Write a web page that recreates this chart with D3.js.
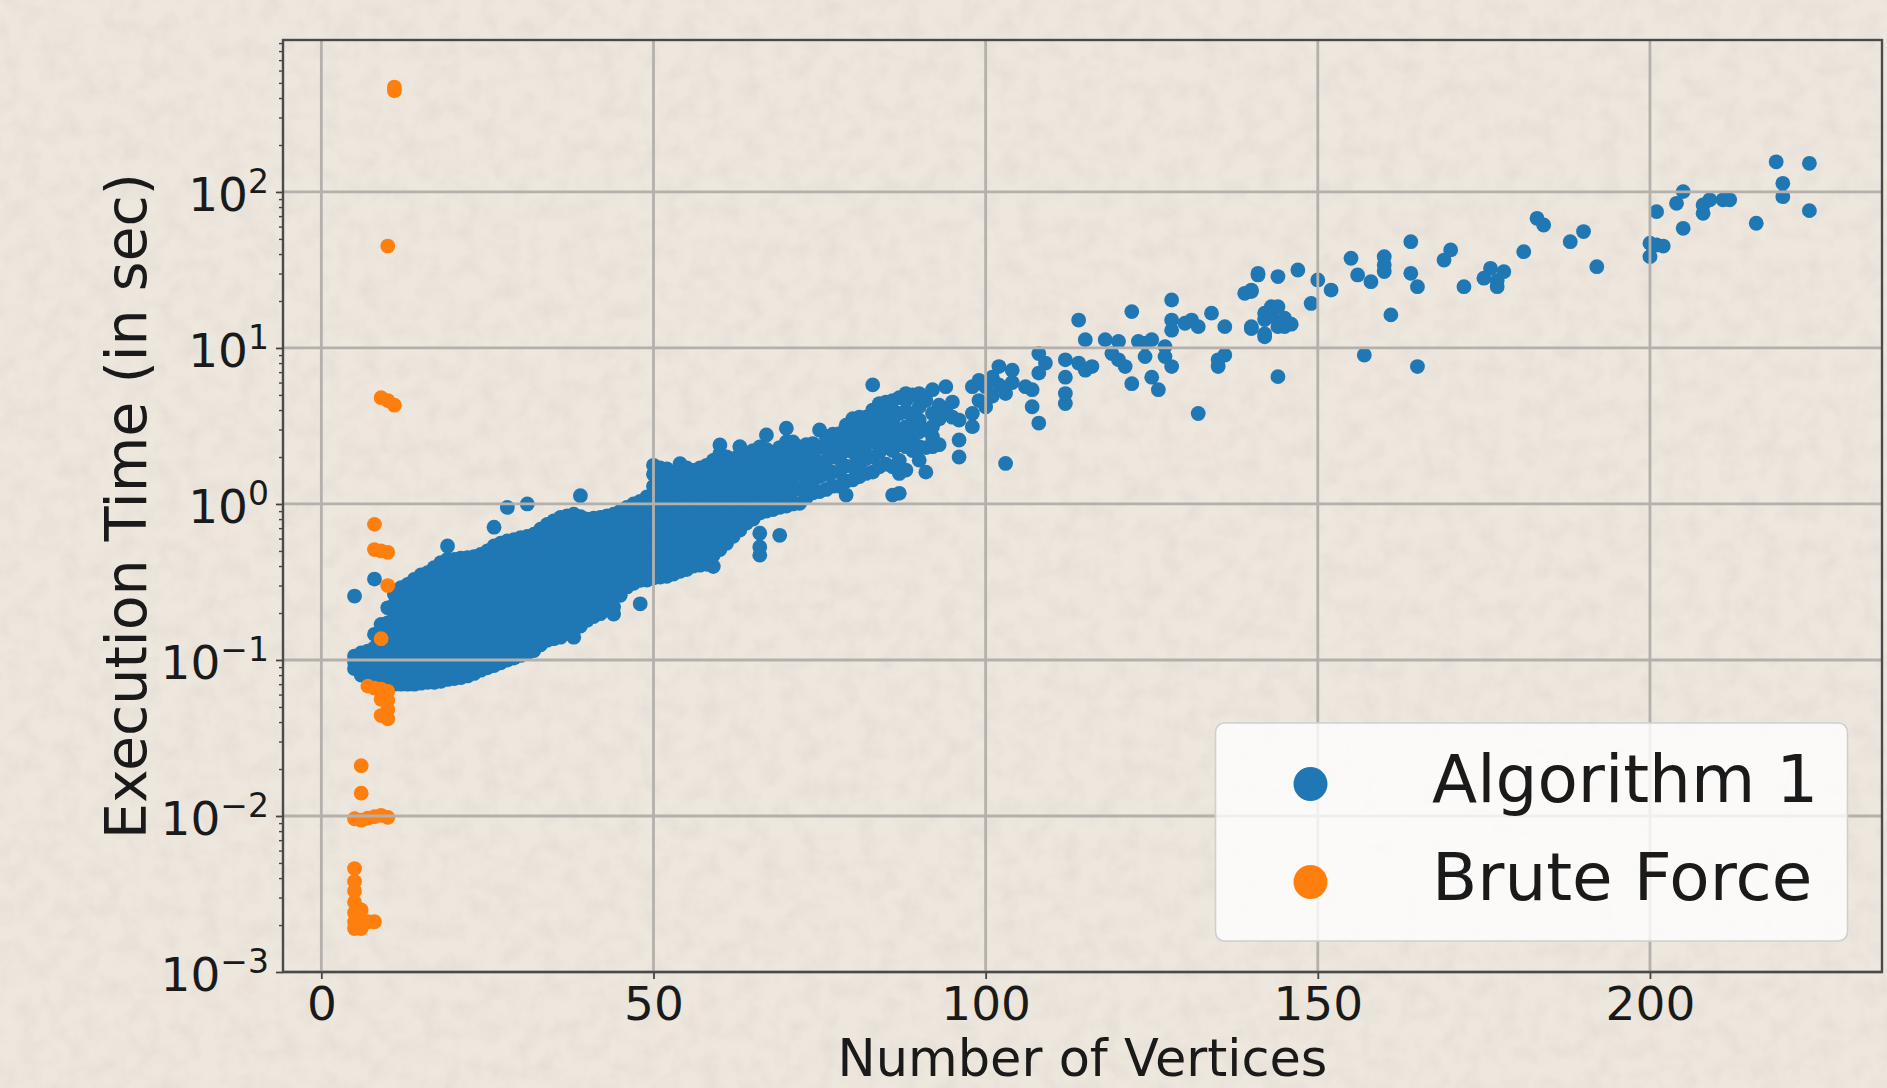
<!DOCTYPE html>
<html><head><meta charset="utf-8">
<script src="https://cdn.jsdelivr.net/npm/d3@7"></script>
<style>html,body{margin:0;padding:0;background:#ede7de;overflow:hidden}svg{display:block}</style>
</head><body><svg id="chart" width="1887" height="1088"></svg>
<script>
// ---------- data ----------
const xTicks = [0, 50, 100, 150, 200];
const yTickExponents = [-3, -2, -1, 0, 1, 2];
const seriesNames = ["Algorithm 1", "Brute Force"];
const seriesColors = ["#1f77b4", "#ff7f0e"];
const xLabel = "Number of Vertices";
const yLabel = "Execution Time (in sec)";

// Algorithm 1: [number of vertices, [execution times in sec]]
const algorithm1 = [
 [5,[0.088,0.097,0.106,0.257]],
 [6,[0.080,0.090,0.100,0.111]],
 [7,[0.078,0.092,0.103,0.114]],
 [8,[0.074,0.084,0.100,0.120,0.146,0.33]],
 [9,[0.072,0.082,0.092,0.110,0.132,0.150,0.169]],
 [10,[0.071,0.084,0.100,0.120,0.144,0.173,0.216]],
 [11,[0.070,0.077,0.092,0.110,0.132,0.158,0.190,0.228,0.264]],
 [12,[0.070,0.084,0.100,0.120,0.144,0.173,0.208,0.250,0.291]],
 [13,[0.070,0.077,0.092,0.110,0.132,0.158,0.190,0.228,0.274,0.305]],
 [14,[0.070,0.084,0.100,0.120,0.144,0.173,0.208,0.250,0.300,0.329]],
 [15,[0.071,0.077,0.092,0.110,0.132,0.158,0.190,0.228,0.274,0.330,0.351]],
 [16,[0.072,0.084,0.100,0.120,0.144,0.173,0.208,0.250,0.300,0.363]],
 [17,[0.072,0.080,0.092,0.110,0.132,0.158,0.190,0.228,0.274,0.330,0.391]],
 [18,[0.073,0.084,0.100,0.120,0.144,0.173,0.208,0.250,0.300,0.360,0.421]],
 [19,[0.075,0.092,0.110,0.132,0.158,0.190,0.228,0.274,0.330,0.390,0.442,0.538]],
 [20,[0.076,0.084,0.100,0.120,0.144,0.173,0.208,0.250,0.300,0.360,0.442]],
 [21,[0.077,0.092,0.110,0.132,0.158,0.190,0.228,0.274,0.330,0.390,0.450]],
 [22,[0.079,0.090,0.100,0.120,0.144,0.173,0.208,0.250,0.300,0.360,0.453]],
 [23,[0.082,0.092,0.110,0.132,0.158,0.190,0.228,0.274,0.330,0.390,0.460]],
 [24,[0.086,0.100,0.120,0.144,0.173,0.208,0.250,0.300,0.360,0.420,0.475]],
 [25,[0.089,0.100,0.110,0.132,0.158,0.190,0.228,0.274,0.330,0.390,0.450,0.500]],
 [26,[0.092,0.100,0.120,0.144,0.173,0.208,0.250,0.300,0.360,0.430,0.538,0.71]],
 [27,[0.096,0.110,0.132,0.158,0.190,0.228,0.274,0.330,0.390,0.470,0.560]],
 [28,[0.100,0.120,0.144,0.173,0.208,0.250,0.300,0.360,0.430,0.520,0.579,0.95]],
 [29,[0.103,0.115,0.132,0.158,0.190,0.228,0.274,0.330,0.390,0.470,0.590]],
 [30,[0.107,0.120,0.144,0.173,0.208,0.250,0.300,0.360,0.430,0.520,0.608]],
 [31,[0.111,0.132,0.158,0.190,0.228,0.274,0.330,0.390,0.470,0.570,0.620,1.0]],
 [32,[0.115,0.130,0.144,0.173,0.208,0.250,0.300,0.360,0.430,0.520,0.640]],
 [33,[0.125,0.140,0.158,0.190,0.228,0.274,0.330,0.390,0.470,0.570,0.690]],
 [34,[0.134,0.150,0.173,0.208,0.250,0.300,0.360,0.430,0.520,0.620,0.740]],
 [35,[0.137,0.158,0.190,0.228,0.274,0.330,0.390,0.470,0.570,0.680,0.780]],
 [36,[0.140,0.160,0.185,0.208,0.250,0.300,0.360,0.430,0.520,0.620,0.750,0.820]],
 [37,[0.148,0.170,0.190,0.228,0.274,0.330,0.390,0.470,0.570,0.680,0.840]],
 [38,[0.140,0.155,0.175,0.208,0.250,0.300,0.360,0.430,0.520,0.620,0.750,0.860]],
 [39,[0.165,0.190,0.228,0.274,0.330,0.390,0.470,0.570,0.680,0.830,1.13]],
 [40,[0.180,0.208,0.250,0.300,0.360,0.430,0.520,0.620,0.720,0.800]],
 [41,[0.190,0.228,0.274,0.330,0.390,0.470,0.570,0.680,0.810]],
 [42,[0.198,0.230,0.260,0.300,0.360,0.430,0.520,0.620,0.720,0.820]],
 [43,[0.210,0.245,0.290,0.330,0.390,0.470,0.570,0.680,0.840]],
 [44,[0.197,0.219,0.260,0.300,0.360,0.430,0.520,0.620,0.750,0.860]],
 [45,[0.260,0.300,0.350,0.410,0.470,0.570,0.680,0.820,0.900]],
 [46,[0.294,0.330,0.380,0.440,0.520,0.620,0.750,0.860,0.950]],
 [47,[0.310,0.350,0.400,0.470,0.570,0.680,0.820,1.00]],
 [48,[0.229,0.324,0.370,0.430,0.520,0.620,0.750,0.900,1.04]],
 [49,[0.325,0.360,0.410,0.470,0.570,0.680,0.820,0.980,1.11]],
 [50,[0.336,0.380,0.430,0.520,0.620,0.750,0.900,1.08,1.30,1.55,1.77]],
 [51,[0.340,0.390,0.470,0.570,0.680,0.820,0.980,1.18,1.42,1.70]],
 [52,[0.344,0.400,0.460,0.520,0.620,0.750,0.900,1.08,1.30,1.50,1.68]],
 [53,[0.355,0.410,0.470,0.570,0.680,0.820,0.980,1.18,1.42,1.60]],
 [54,[0.370,0.430,0.520,0.620,0.750,0.900,1.08,1.30,1.55,1.81]],
 [55,[0.380,0.450,0.570,0.680,0.820,0.980,1.18,1.42,1.70]],
 [56,[0.400,0.460,0.520,0.620,0.750,0.900,1.08,1.30,1.64]],
 [57,[0.405,0.470,0.570,0.680,0.820,0.980,1.18,1.42,1.70]],
 [58,[0.410,0.480,0.550,0.620,0.750,0.900,1.08,1.30,1.55,1.77]],
 [59,[0.397,0.470,0.570,0.680,0.820,0.980,1.18,1.42,1.70,1.90]],
 [60,[0.510,0.600,0.700,0.820,0.950,1.10,1.30,1.55,1.87,2.10,2.39]],
 [61,[0.560,0.650,0.770,0.900,1.05,1.24,1.45,1.70,2.00]],
 [62,[0.620,0.720,0.840,0.980,1.15,1.35,1.60,1.95]],
 [63,[0.680,0.790,0.920,1.08,1.26,1.50,1.80,2.05,2.33]],
 [64,[0.755,0.880,1.02,1.20,1.42,1.70,2.00]],
 [65,[0.800,0.950,1.12,1.33,1.60,1.90,2.20]],
 [66,[0.470,0.530,0.650,0.875,1.02,1.20,1.42,1.70,2.00,2.32]],
 [67,[0.900,1.08,1.30,1.55,1.87,2.24,2.77]],
 [68,[0.920,1.10,1.33,1.60,1.90,2.15]],
 [69,[0.630,0.950,1.15,1.40,1.70,2.00,2.30]],
 [70,[0.970,1.18,1.42,1.72,2.10,2.50,3.06]],
 [71,[1.00,1.22,1.50,1.80,2.15,2.50]],
 [72,[1.01,1.25,1.55,1.90,2.32]],
 [73,[1.10,1.35,1.65,2.00,2.40]],
 [74,[1.18,1.42,1.75,2.10,2.44]],
 [75,[1.20,1.50,1.85,2.30,2.98]],
 [76,[1.24,1.55,1.90,2.30,2.70]],
 [77,[1.30,1.60,2.00,2.40,2.80]],
 [78,[1.30,1.60,1.95,2.35,2.82]],
 [79,[1.14,1.40,1.75,2.20,2.70,3.20]],
 [80,[1.43,1.75,2.15,2.60,3.10,3.52]],
 [81,[1.50,1.85,2.30,2.80,3.30,3.60]],
 [82,[1.57,1.95,2.40,2.90,3.60]],
 [83,[1.60,2.00,2.50,3.10,3.60,4.00,5.80]],
 [84,[1.73,2.15,2.65,3.30,3.90,4.40]],
 [85,[1.80,2.30,2.90,3.60,4.50]],
 [86,[1.14,1.73,2.20,2.70,3.40,4.00,4.60]],
 [87,[1.17,1.57,1.90,2.40,3.00,3.80,4.80]],
 [88,[1.65,2.33,2.57,3.13,3.90,4.60,5.10]],
 [89,[2.20,2.70,3.30,3.80,5.00]],
 [90,[1.91,2.33,2.90,3.45,4.20,5.10]],
 [91,[1.60,2.30,3.00,4.60]],
 [92,[2.33,2.70,3.13,3.80,5.40]],
 [93,[2.40,3.50,4.30]],
 [94,[4.00,5.65]],
 [95,[3.60,4.50]],
 [96,[2.00,2.57,3.45]],
 [98,[3.13,3.80,5.65]],
 [99,[4.60,6.20]],
 [100,[4.20,5.65]],
 [101,[4.90,6.50]],
 [102,[5.80,7.60]],
 [103,[1.82,5.10]],
 [104,[6.00,7.20]],
 [106,[5.65]],
 [107,[4.20,5.40]],
 [108,[3.30,6.90,9.20]],
 [109,[8.00]],
 [112,[4.40,5.10,6.50,8.40]],
 [114,[8.00,15.1]],
 [115,[7.20,11.3]],
 [116,[7.60]],
 [118,[11.3]],
 [119,[9.20]],
 [120,[8.40,11.0]],
 [121,[7.60]],
 [122,[5.90,17.1]],
 [123,[11.0]],
 [124,[8.80,10.7]],
 [125,[6.50,11.3]],
 [126,[5.40]],
 [127,[8.80,10.2]],
 [128,[7.60,13.0,15.1,20.3]],
 [130,[14.4]],
 [131,[15.1]],
 [132,[3.80,13.7]],
 [134,[16.7]],
 [135,[7.60,8.40]],
 [136,[9.00,13.7]],
 [139,[22.4]],
 [140,[13.3,13.7,23.0,23.5]],
 [141,[29.4,30.1]],
 [142,[11.8,12.3,15.2,16.7]],
 [143,[16.0,18.4]],
 [144,[6.55,13.7,18.4,28.7]],
 [145,[13.7,15.5]],
 [146,[14.2]],
 [147,[31.6]],
 [149,[19.3]],
 [150,[27.3]],
 [152,[23.5]],
 [155,[37.6]],
 [156,[29.4]],
 [157,[9.00]],
 [158,[26.6]],
 [160,[30.9,34.0,38.5]],
 [161,[16.3]],
 [164,[30.1,48.0]],
 [165,[7.60,24.7]],
 [169,[36.6]],
 [170,[42.5]],
 [172,[24.7]],
 [175,[28.0]],
 [176,[32.4]],
 [177,[24.7,27.0]],
 [178,[30.8]],
 [181,[41.4]],
 [183,[67.8]],
 [184,[61.4]],
 [188,[48.0]],
 [190,[55.7]],
 [192,[33.2]],
 [200,[38.5,46.9]],
 [201,[45.7,74.8]],
 [202,[45.0]],
 [204,[84.6]],
 [205,[58.5,100.5]],
 [208,[73.0,82.6]],
 [209,[89.0]],
 [211,[89.0]],
 [212,[89.0]],
 [216,[63.0]],
 [219,[156]],
 [220,[93.3,113.6]],
 [224,[75.9,152.6]]
];

// Brute Force: [number of vertices, execution time in sec]
const bruteForce = [
 [11,470],[11,445],[10,45],[9,4.8],[10,4.6],[11,4.3],
 [8,0.74],[8,0.51],[9,0.50],[10,0.49],[10,0.30],[9,0.137],
 [7,0.068],[8,0.066],[9,0.065],[10,0.063],[9,0.056],[10,0.055],[10,0.048],[9,0.044],[10,0.042],
 [6,0.021],[6,0.014],
 [5,0.0096],[6,0.0094],[7,0.0097],[8,0.0099],[9,0.0101],[10,0.0098],
 [5,0.0046],[5,0.0038],[5,0.0033],[5,0.0028],[5,0.0024],[5,0.0021],[5,0.0019],
 [6,0.0025],[6,0.0022],[6,0.0019],[7,0.0021],[8,0.0021]
];

// ---------- drawing ----------
const W = 1887, H = 1088;
const plot = {left: 283, right: 1882, top: 40, bottom: 972};
const FONT = "'DejaVu Sans', 'Liberation Sans', sans-serif";

const svg = d3.select("#chart");
const defs = svg.append("defs");
const f = defs.append("filter").attr("id", "paper").attr("x", 0).attr("y", 0).attr("width", 1).attr("height", 1);
f.append("feTurbulence").attr("type", "fractalNoise").attr("baseFrequency", 0.05).attr("numOctaves", 3).attr("seed", 7);
f.append("feColorMatrix").attr("type", "matrix")
  .attr("values", "0 0 0 0 0.62  0 0 0 0 0.55  0 0 0 0 0.52  0 0 0 1.2 -0.45");

svg.append("rect").attr("width", W).attr("height", H).attr("fill", "#ede7de");
svg.append("rect").attr("width", W).attr("height", H).attr("filter", "url(#paper)").attr("opacity", 0.35);

const x = d3.scaleLinear().domain([-5.77, 234.93]).range([plot.left, plot.right]);
const y = d3.scaleLog().domain([1e-3, Math.pow(10, 2.974)]).range([plot.bottom, plot.top]);

const R = 7.4;
const algoPts = algorithm1.flatMap(([v, ts]) => ts.map(t => ({v, t})));
const brutePts = bruteForce.map(([v, t]) => ({v, t}));

const clipId = "plotclip";
defs.append("clipPath").attr("id", clipId).append("rect")
  .attr("x", plot.left).attr("y", plot.top).attr("width", plot.right - plot.left).attr("height", plot.bottom - plot.top);

const pts = svg.append("g").attr("clip-path", `url(#${clipId})`);
pts.selectAll("circle.a").data(algoPts).join("circle").attr("class", "a")
  .attr("cx", d => x(d.v)).attr("cy", d => y(d.t)).attr("r", R).attr("fill", seriesColors[0]);
pts.selectAll("circle.b").data(brutePts).join("circle").attr("class", "b")
  .attr("cx", d => x(d.v)).attr("cy", d => y(d.t)).attr("r", R).attr("fill", seriesColors[1]);

// grid (drawn above points, as in the reference)
const yMajor = yTickExponents.map(e => Math.pow(10, e));
const grid = svg.append("g").attr("stroke", "#b4b0ab").attr("stroke-width", 2.8);
grid.selectAll("line.gx").data(xTicks).join("line").attr("class", "gx")
  .attr("x1", d => x(d)).attr("x2", d => x(d)).attr("y1", plot.top).attr("y2", plot.bottom);
grid.selectAll("line.gy").data(yMajor).join("line").attr("class", "gy")
  .attr("x1", plot.left).attr("x2", plot.right).attr("y1", d => y(d)).attr("y2", d => y(d));

// axes
const xAxis = svg.append("g").attr("transform", `translate(0,${plot.bottom})`)
  .call(d3.axisBottom(x).tickValues(xTicks).tickSize(7).tickPadding(14).tickFormat(d3.format("d")));
xAxis.select(".domain").remove();
xAxis.selectAll(".tick line").attr("stroke", "#444").attr("stroke-width", 1.8);
xAxis.selectAll(".tick text").attr("font-family", FONT).attr("font-size", 47).attr("fill", "#1a1a1a")
  .attr("dy", null).attr("y", 48);

const minorVals = y.ticks().filter(v => !yMajor.some(m => Math.abs(m - v) / m < 1e-9));
const yMinor = svg.append("g").attr("transform", `translate(${plot.left},0)`)
  .call(d3.axisLeft(y).tickValues(minorVals).tickSize(4).tickFormat(""));
yMinor.select(".domain").remove();
yMinor.selectAll(".tick line").attr("stroke", "#444").attr("stroke-width", 1.4);

const yAxis = svg.append("g").attr("transform", `translate(${plot.left},0)`)
  .call(d3.axisLeft(y).tickValues(yMajor).tickSize(7).tickFormat(""));
yAxis.select(".domain").remove();
yAxis.selectAll(".tick line").attr("stroke", "#444").attr("stroke-width", 1.8);

// mathtext-like labels 10^e
const yl = svg.append("g");
yTickExponents.forEach(e => {
  const t = yl.append("text").attr("x", 269).attr("y", y(Math.pow(10, e)) + 19)
    .attr("text-anchor", "end").attr("font-family", FONT).attr("fill", "#1a1a1a");
  t.append("tspan").attr("font-size", 47).text("10");
  t.append("tspan").attr("font-size", 33).attr("dy", -18).text(e < 0 ? "\u2212" + (-e) : String(e));
});

// spines
svg.append("rect").attr("x", plot.left).attr("y", plot.top)
  .attr("width", plot.right - plot.left).attr("height", plot.bottom - plot.top)
  .attr("fill", "none").attr("stroke", "#4a4a4a").attr("stroke-width", 2.4);

// axis labels
svg.append("text").attr("x", (plot.left + plot.right) / 2).attr("y", 1076)
  .attr("text-anchor", "middle").attr("font-family", FONT).attr("font-size", 51).attr("fill", "#1a1a1a")
  .text(xLabel);
svg.append("text").attr("transform", `translate(146,${(plot.top + plot.bottom) / 2}) rotate(-90)`)
  .attr("text-anchor", "middle").attr("font-family", FONT).attr("font-size", 57).attr("fill", "#1a1a1a")
  .text(yLabel);

// legend
const lg = svg.append("g");
lg.append("rect").attr("x", 1215.5).attr("y", 723).attr("width", 632).attr("height", 218).attr("rx", 9)
  .attr("fill", "#ffffff").attr("fill-opacity", 0.8).attr("stroke", "#cfcfcf").attr("stroke-width", 1.6);
seriesNames.forEach((name, i) => {
  const cy = 784 + i * 98;
  lg.append("circle").attr("cx", 1310.5).attr("cy", cy).attr("r", 17).attr("fill", seriesColors[i]);
  lg.append("text").attr("x", 1432).attr("y", cy + 18).attr("font-family", FONT).attr("font-size", 66)
    .attr("fill", "#1a1a1a").text(name);
});
</script></body></html>
